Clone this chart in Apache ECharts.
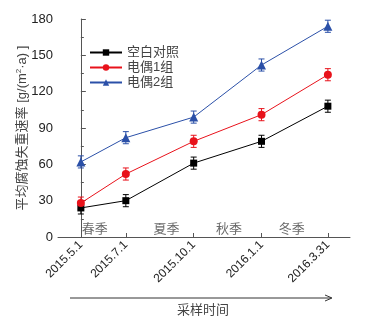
<!DOCTYPE html>
<html><head><meta charset="utf-8">
<script src="https://cdn.jsdelivr.net/npm/echarts@6/dist/echarts.min.js"></script>
<style>html,body{margin:0;padding:0;background:#fff}#c{width:366px;height:322px}</style>
</head><body><div id="c"></div>
<script>
var dates = ['2015-05-01','2015-07-01','2015-10-01','2016-01-01','2016-03-31'];
var dateLabels = ['2015.5.1','2015.7.1','2015.10.1','2016.1.1','2016.3.31'];
var seriesNames = ['空白对照','电偶1组','电偶2组'];
var blank = [24, 30, 61, 79, 108];
var group1 = [28, 52, 79, 101, 134];
var group2 = [62, 82, 99, 142, 174];
var errBlank = [5, 5, 5, 5, 5];
var errG1 = [5, 5, 5, 5, 5];
var errG2 = [5, 5, 5, 5, 5];
var seasons = ['春季','夏季','秋季','冬季'];
var seasonDays = [19, 116, 201, 286];
var yTicks = [0, 30, 60, 90, 120, 150, 180];

var t0 = Date.parse(dates[0]);
var days = dates.map(function(d){ return Math.round((Date.parse(d) - t0) / 86400000); });
var colors = ['#000000', '#e8121b', '#2b50a8'];
var symbols = ['rect', 'circle', 'triangle'];
var symSizes = [7, 8, 9];
var vals = [blank, group1, group2];
var errs = [errBlank, errG1, errG2];
var cjk = "'Liberation Sans', 'Noto Sans CJK SC', sans-serif";

var series = [];
vals.forEach(function(v, i){
  series.push({
    name: seriesNames[i], type: 'line', data: v.map(function(y, k){ return [days[k], y]; }),
    symbol: symbols[i], symbolSize: symSizes[i], z: 5,
    lineStyle: {color: colors[i], width: 1}, itemStyle: {color: colors[i]}
  });
  series.push({
    type: 'custom', z: 4,
    data: v.map(function(y, k){ return [days[k], y - errs[i][k], y + errs[i][k]]; }),
    renderItem: function(params, api){
      var lo = api.coord([api.value(0), api.value(1)]);
      var hi = api.coord([api.value(0), api.value(2)]);
      var w = 3;
      var st = {stroke: colors[i], lineWidth: 1};
      return {type: 'group', children: [
        {type: 'line', shape: {x1: lo[0], y1: lo[1], x2: hi[0], y2: hi[1]}, style: st},
        {type: 'line', shape: {x1: lo[0]-w, y1: lo[1], x2: lo[0]+w, y2: lo[1]}, style: st},
        {type: 'line', shape: {x1: hi[0]-w, y1: hi[1], x2: hi[0]+w, y2: hi[1]}, style: st}
      ]};
    }
  });
});
series.push({
  type: 'scatter', symbolSize: 0, silent: true,
  data: seasonDays.map(function(d){ return [d, 6.5]; }),
  label: {show: true, position: 'inside', color: '#444',
    fontSize: 13, fontFamily: cjk,
    formatter: function(p){ return seasons[p.dataIndex]; }}
});

var chart = echarts.init(document.getElementById('c'));
chart.setOption({
  animation: false,
  grid: {left: 58, right: 16, top: 19, bottom: 85},
  legend: {
    data: seriesNames, orient: 'vertical', left: 84, top: 41,
    itemWidth: 32, itemHeight: 8, itemGap: 2,
    textStyle: {fontSize: 13, color: '#444', fontFamily: cjk}
  },
  xAxis: {
    type: 'value', min: -31, max: 365,
    axisLine: {lineStyle: {color: '#555'}},
    splitLine: {show: false},
    axisTick: {inside: true, length: 4, customValues: days, lineStyle: {color: '#555'}},
    axisLabel: {customValues: days, rotate: 45, margin: 6, color: '#222', fontSize: 12,
      fontFamily: 'Liberation Sans',
      formatter: function(v){ var k = days.indexOf(v); return k >= 0 ? dateLabels[k] : ''; }}
  },
  yAxis: {
    type: 'value', min: 0, max: 180, interval: 30,
    name: '平均腐蚀失重速率 [g/(m{sup|2}·a) ]', nameLocation: 'middle', nameRotate: 90, nameGap: 29,
    nameMoveOverlap: false,
    nameTextStyle: {fontSize: 13, color: '#444', fontFamily: cjk,
      rich: {sup: {fontSize: 8, verticalAlign: 'top', padding: [0,0,6,0], color: '#444', fontFamily: 'Liberation Sans'}}},
    axisLine: {show: true, lineStyle: {color: '#555'}},
    splitLine: {show: false},
    axisTick: {show: true, inside: true, length: 5, lineStyle: {color: '#555'}},
    minorTick: {show: true, splitNumber: 2, length: 3, lineStyle: {color: '#555'}},
    axisLabel: {color: '#222', fontSize: 13, margin: 5, fontFamily: 'Liberation Sans',
      formatter: function(v){ return yTicks.indexOf(v) >= 0 ? String(v) : ''; }}
  },
  graphic: [
    {type: 'line', shape: {x1: 70, y1: 298, x2: 331, y2: 298}, style: {stroke: '#333', lineWidth: 1}},
    {type: 'polyline', shape: {points: [[325, 295], [332, 298], [325, 301]]}, style: {stroke: '#333', fill: null, lineWidth: 1}},
    {type: 'text', style: {text: '采样时间', x: 203, y: 310, align: 'center', verticalAlign: 'middle',
      fontSize: 13, fill: '#444', fontFamily: cjk}}
  ],
  series: series
});
</script></body></html>
